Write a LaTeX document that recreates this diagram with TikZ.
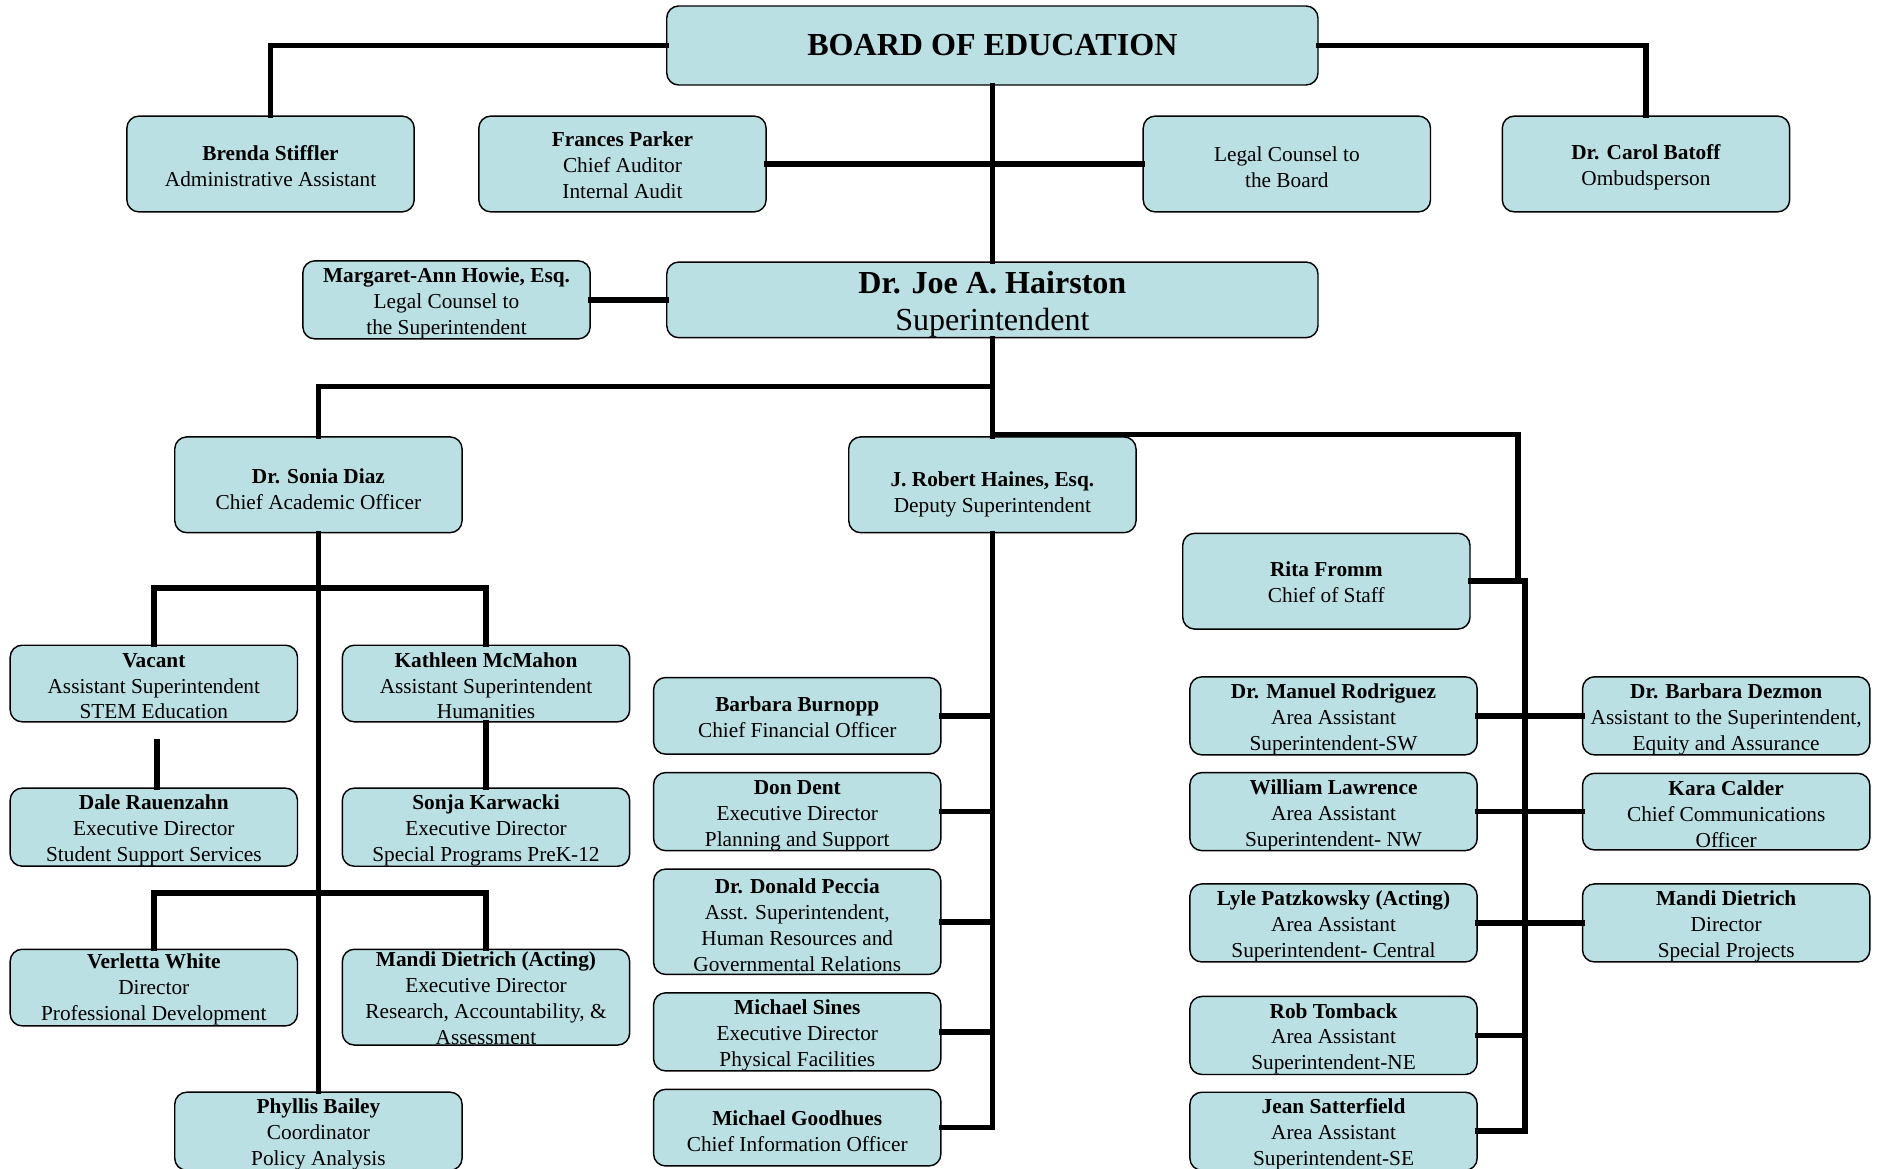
\documentclass[tikz,border=0pt]{standalone}
\usepackage{fontspec}
\setmainfont{Liberation Serif}
\definecolor{boxfill}{RGB}{186,224,227}
\newcommand{\nm}[2][18pt]{\rule{0pt}{#1}\textbf{#2}}
\begin{document}
\begin{tikzpicture}[x=1pt,y=-1pt,
  box/.style={draw=black, line width=1.2pt, fill=boxfill, rounded corners=10pt,
    minimum width=240pt, minimum height=64pt, inner sep=0pt, align=center,
    font=\fontsize{17.8}{21.7}\selectfont},
  tall/.style={minimum height=80pt},
  big/.style={box, minimum width=544pt, font=\fontsize{26.8}{31}\selectfont},
  conn/.style={line width=4.7pt, line cap=rect}]
\useasboundingbox (0,0) rectangle (1568,976);
% top level
\node[big, minimum height=66pt] (board) at (829,38) {\rule[-1.5pt]{0pt}{1.5pt}\textbf{BOARD OF EDUCATION}};
\node[box, tall] (brenda) at (226,137) {\nm[15.5pt]{Brenda Stiffler}\\Administrative Assistant};
\node[box, tall] (frances) at (520,137) {\nm[15pt]{Frances Parker}\\Chief Auditor\\Internal Audit};
\node[box, tall] (legal) at (1075,137) {\rule{0pt}{17pt}Legal Counsel to\\the Board};
\node[box, tall] (carol) at (1375,137) {\nm{Dr. Carol Batoff}\\Ombudsperson};
\node[box, minimum height=63pt] (margaret) at (373,250.5) {\nm{Margaret-Ann Howie, Esq.}\\Legal Counsel to\\the Superintendent};
\node[big, minimum height=63pt] (sup) at (829,250.5) {\nm[26.5pt]{Dr. Joe A. Hairston}\\Superintendent};
% second level
\node[box, tall] (sonia) at (266,405) {\nm[20.5pt]{Dr. Sonia Diaz}\\Chief Academic Officer};
\node[box, tall] (haines) at (829,405) {\nm[28pt]{J. Robert Haines, Esq.}\\Deputy Superintendent};
\node[box, tall] (rita) at (1108,485.5) {\nm[14.5pt]{Rita Fromm}\\Chief of Staff};
% academic branch
\node[box] (vacant) at (128.5,571) {\nm[16pt]{Vacant}\\Assistant Superintendent\\STEM Education};
\node[box] (kathleen) at (406,571) {\nm[16pt]{Kathleen McMahon}\\Assistant Superintendent\\Humanities};
\node[box] (dale) at (128.5,691) {\nm{Dale Rauenzahn}\\Executive Director\\Student Support Services};
\node[box] (sonja) at (406,691) {\nm{Sonja Karwacki}\\Executive Director\\Special Programs PreK-12};
\node[box] (verletta) at (128.5,825) {\nm[16pt]{Verletta White}\\Director\\Professional Development};
\node[box, tall] (mandia) at (406,833) {\nm[14pt]{Mandi Dietrich (Acting)}\\Executive Director\\Research, Accountability, \&\\Assessment};
\node[box] (phyllis) at (266,945) {\nm{Phyllis Bailey}\\Coordinator\\Policy Analysis};
% deputy branch
\node[box] (burnopp) at (666,598) {\nm[15pt]{Barbara Burnopp}\\Chief Financial Officer};
\node[box] (dent) at (666,678) {\nm{Don Dent}\\Executive Director\\Planning and Support};
\node[box, minimum height=88pt] (peccia) at (666,770) {\nm{Dr. Donald Peccia}\\Asst. Superintendent,\\Human Resources and\\Governmental Relations};
\node[box] (sines) at (666,862) {\nm{Michael Sines}\\Executive Director\\Physical Facilities};
\node[box] (goodhues) at (666,942) {\nm{Michael Goodhues}\\Chief Information Officer};
% chief of staff branch
\node[box] (rodriguez) at (1114,598) {\nm{Dr. Manuel Rodriguez}\\Area Assistant\\Superintendent-SW};
\node[box] (lawrence) at (1114,678) {\nm{William Lawrence}\\Area Assistant\\Superintendent- NW};
\node[box] (lyle) at (1114,771) {\nm{Lyle Patzkowsky (Acting)}\\Area Assistant\\Superintendent- Central};
\node[box] (tomback) at (1114,865) {\nm{Rob Tomback}\\Area Assistant\\Superintendent-NE};
\node[box] (jean) at (1114,945) {\nm{Jean Satterfield}\\Area Assistant\\Superintendent-SE};
\node[box] (dezmon) at (1442,598) {\nm{Dr. Barbara Dezmon}\\Assistant to the Superintendent,\\Equity and Assurance};
\node[box] (kara) at (1442,678) {\nm[16pt]{Kara Calder}\\Chief Communications\\Officer};
\node[box] (mandid) at (1442,771) {\nm{Mandi Dietrich}\\Director\\Special Projects};
% junction coordinates
\coordinate (js) at (829,323);
\coordinate (jr) at (829,363);
\coordinate (jrc) at (1268,363);
\coordinate (jrd) at (1268,485.5);
\coordinate (vtop) at (1274,485.5);
\coordinate (vbot) at (1274,945);
\coordinate (ja) at (266,491);
\coordinate (jb) at (266,746);
\coordinate (dv) at (131,620);
\coordinate (hbot) at (829,942);
% connectors
\draw[conn] (board.west) -| (brenda.north);
\draw[conn] (board.east) -| (carol.north);
\draw[conn] (board.south) -- (sup.north);
\draw[conn] (frances.east) -- (legal.west);
\draw[conn] (margaret.east) -- (sup.west);
\draw[conn] (sup.south) -- (js) -| (sonia.north);
\draw[conn] (sup.south) -- (haines.north);
\draw[conn] (jr) -- (jrc) -- (jrd);
\draw[conn] (rita.east) -- (vtop) -- (vbot);
\draw[conn] (sonia.south) -- (phyllis.north);
\draw[conn] (vacant.north) |- (ja) -| (kathleen.north);
\draw[conn] (dv) -- (dv |- dale.north);
\draw[conn] (kathleen.south) -- (sonja.north);
\draw[conn] (verletta.north) |- (jb) -| (mandia.north);
\draw[conn] (haines.south) -- (hbot) -- (goodhues.east);
\draw[conn] (burnopp.east) -- (burnopp.east -| hbot);
\draw[conn] (dent.east) -- (dent.east -| hbot);
\draw[conn] (peccia.east) -- (peccia.east -| hbot);
\draw[conn] (sines.east) -- (sines.east -| hbot);
\draw[conn] (rodriguez.east) -- (dezmon.west);
\draw[conn] (lawrence.east) -- (kara.west);
\draw[conn] (lyle.east) -- (mandid.west);
\draw[conn] (tomback.east) -- (tomback.east -| vtop);
\draw[conn] (jean.east) -- (vbot);
\end{tikzpicture}
\end{document}
